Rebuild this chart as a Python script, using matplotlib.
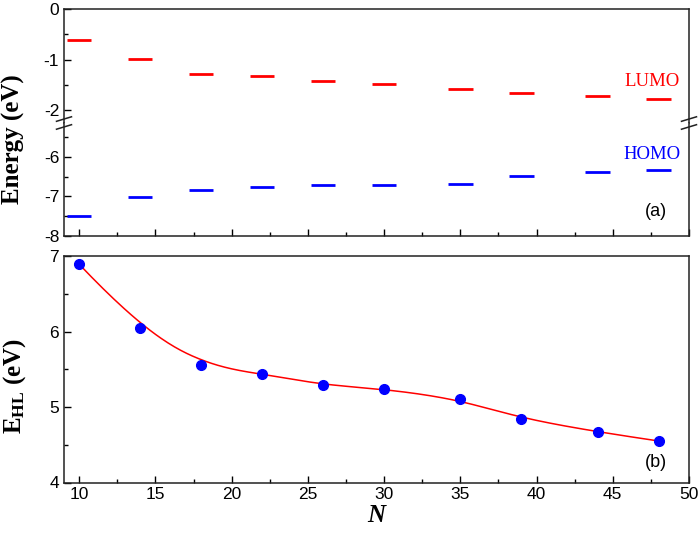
import numpy as np
import matplotlib
matplotlib.use("Agg")
import matplotlib.pyplot as plt
from matplotlib.ticker import MultipleLocator

plt.rcParams["font.family"] = ["Liberation Sans", "DejaVu Sans"]
plt.rcParams["mathtext.fontset"] = "custom"
plt.rcParams["mathtext.bf"] = "Liberation Serif:bold"
plt.rcParams["mathtext.rm"] = "Liberation Serif"

# data
N = [10, 14, 18, 22, 26, 30, 35, 39, 44, 48]
lumo = [-0.61, -0.99, -1.28, -1.33, -1.43, -1.48, -1.58, -1.65, -1.72, -1.78]
homo = [-7.49, -7.02, -6.83, -6.77, -6.72, -6.72, -6.68, -6.48, -6.38, -6.33]
e_hl = [6.89, 6.04, 5.55, 5.44, 5.29, 5.24, 5.10, 4.84, 4.67, 4.55]


def bspline(px, py, num=400, k=3):
    # clamped uniform B-spline using the points as control points
    P = np.column_stack([px, py]).astype(float)
    n = len(P)
    knots = np.concatenate([np.zeros(k), np.linspace(0, 1, n - k + 1), np.ones(k)])
    ts = np.linspace(0, 1, num)
    out = []
    for t in ts:
        if t >= 1:
            out.append(P[-1])
            continue
        s = np.searchsorted(knots, t, side="right") - 1
        d = [P[j + s - k].copy() for j in range(k + 1)]
        for r in range(1, k + 1):
            for j in range(k, r - 1, -1):
                i = j + s - k
                a = (t - knots[i]) / (knots[i + k + 1 - r] - knots[i])
                d[j] = (1 - a) * d[j - 1] + a * d[j]
        out.append(d[k])
    out = np.array(out)
    return out[:, 0], out[:, 1]


fig = plt.figure(figsize=(7, 5.33), dpi=100)
L, W = 64 / 700, 625 / 700
H = 533
ax_up = fig.add_axes([L, 1 - 123 / H, W, 114 / H])
ax_lo = fig.add_axes([L, 1 - 236 / H, W, 113 / H])
ax_b = fig.add_axes([L, 1 - 482.5 / H, W, 226.5 / H])

half = 0.8
for ax in (ax_up, ax_lo, ax_b):
    ax.set_xlim(9, 50)
    ax.xaxis.set_major_locator(MultipleLocator(5))
    ax.xaxis.set_minor_locator(MultipleLocator(2.5))
    ax.tick_params(which="both", direction="in", top=False, right=False, labelsize=12.5)
    ax.tick_params(which="major", length=5, width=1)
    ax.tick_params(which="minor", length=3, width=1)
    for s in ax.spines.values():
        s.set_linewidth(1.1)
        s.set_color("#222222")

# upper part of the broken axis
ax_up.hlines(lumo, np.array(N) - half, np.array(N) + half, color="#ff0000", lw=2)
ax_up.set_ylim(-2.25, 0)
ax_up.yaxis.set_minor_locator(MultipleLocator(0.5))
ax_up.spines["bottom"].set_visible(False)
ax_up.tick_params(axis="x", which="both", bottom=False, labelbottom=False)
ax_up.set_yticks([0, -1, -2])
ax_up.set_yticklabels(["0", "-1", "-2"])
ax_up.text(47.6, -1.43, "LUMO", color="#ff0000", fontsize=13.5, family="Liberation Serif",
           ha="center", va="center")

# lower part
ax_lo.hlines(homo, np.array(N) - half, np.array(N) + half, color="#0000ff", lw=2)
ax_lo.set_ylim(-8, -5.15)
ax_lo.yaxis.set_minor_locator(MultipleLocator(0.5))
ax_lo.spines["top"].set_visible(False)
ax_lo.tick_params(axis="x", which="both", labelbottom=False)
ax_lo.set_yticks([-6, -7, -8])
ax_lo.set_yticklabels(["-6", "-7", "-8"])
ax_lo.text(47.6, -5.95, "HOMO", color="#0000ff", fontsize=13.5, family="Liberation Serif",
           ha="center", va="center")
ax_lo.text(47.8, -7.38, "(a)", fontsize=13, ha="center", va="center")

# break marks
for xb in (0, 1):
    for dy in (-0.035, 0.035):
        ax_lo.plot([xb - 0.012, xb + 0.012], [1 + dy - 0.02, 1 + dy + 0.02],
                   transform=ax_lo.transAxes, color="#222222", lw=1.1, clip_on=False)

# bottom panel
cx, cy = bspline(N, e_hl)
ax_b.plot(cx, cy, color="#ff0000", lw=1.1, zorder=2)
ax_b.plot(N, e_hl, "o", color="#0000ff", ms=7, zorder=3)
ax_b.set_ylim(4, 7)
ax_b.yaxis.set_major_locator(MultipleLocator(1))
ax_b.yaxis.set_minor_locator(MultipleLocator(0.5))
ax_b.text(47.8, 4.26, "(b)", fontsize=13, ha="center", va="center")
ax_b.set_xlabel("N", fontsize=18, family="Liberation Serif", fontweight="bold",
                style="italic", labelpad=1)

fig.text(13 / 700, 1 - 139 / H, "Energy (eV)", rotation=90, fontsize=18,
         family="Liberation Serif", fontweight="bold", ha="center", va="center")
fig.text(15 / 700, 1 - 386 / H, r"$\mathbf{E_{HL}}$ (eV)", rotation=90, fontsize=18,
         family="Liberation Serif", fontweight="bold", ha="center", va="center")

fig.savefig("out.png", dpi=100)
